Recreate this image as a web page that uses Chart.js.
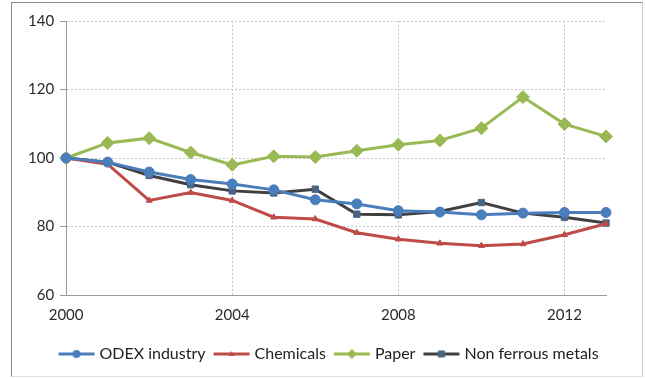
<!DOCTYPE html>
<html>
<head>
<meta charset="utf-8">
<script src="https://cdn.jsdelivr.net/npm/chart.js@4/dist/chart.umd.min.js"></script>
<style>
  html, body { margin: 0; padding: 0; background: #fff; }
  #frame { position: absolute; left: 11px; top: 2px; width: 630px; height: 373px;
           border: 1px solid #8c8c8c; border-right-color: #cfcfcf; border-bottom-color: #e2e2e2; }
  #wrap { position: absolute; left: 0; top: 0; width: 645px; height: 378px; }
</style>
</head>
<body>
<div id="frame"></div>
<div id="wrap"><canvas id="chart"></canvas></div>
<script>
const years = [2000, 2001, 2002, 2003, 2004, 2005, 2006, 2007, 2008, 2009, 2010, 2011, 2012, 2013];
const xTicks = [2000, 2004, 2008, 2012];
const yTicks = [60, 80, 100, 120, 140];

const odex       = [100, 98.8, 95.9, 93.7, 92.4, 90.7, 87.8, 86.6, 84.6, 84.2, 83.4, 83.9, 84.1, 84.1];
const chemicals  = [100, 98.2, 87.6, 89.9, 87.6, 82.7, 82.2, 78.2, 76.3, 75.1, 74.4, 74.9, 77.6, 80.8];
const paper      = [100, 104.4, 105.8, 101.6, 98.0, 100.5, 100.3, 102.1, 103.9, 105.1, 108.7, 117.8, 109.9, 106.3];
const nonFerrous = [100, 98.8, 94.9, 92.2, 90.4, 89.8, 90.9, 83.6, 83.4, 84.4, 87.0, 83.9, 82.7, 81.0];

const font = { family: 'Lato, "Liberation Sans", sans-serif', size: 15 };
const legendFont = { family: 'Lato, "Liberation Sans", sans-serif', size: 16 };

// small legend picture: a line with the marker in its middle
function legendIcon(lineColor, markColor, shape) {
  const c = document.createElement('canvas');
  c.width = 38; c.height = 14;
  const g = c.getContext('2d');
  g.strokeStyle = lineColor; g.lineWidth = 3;
  g.beginPath(); g.moveTo(1, 7); g.lineTo(37, 7); g.stroke();
  g.fillStyle = markColor;
  g.beginPath();
  if (shape === 'circle') g.arc(19, 7, 4, 0, Math.PI * 2);
  else if (shape === 'triangle') { g.moveTo(19, 4); g.lineTo(22, 9); g.lineTo(16, 9); g.closePath(); }
  else if (shape === 'rectRot') { g.moveTo(19, 2); g.lineTo(24, 7); g.lineTo(19, 12); g.lineTo(14, 7); g.closePath(); }
  else g.rect(15.5, 3.5, 7, 7);
  g.fill();
  return c;
}

function series(label, data, lineColor, markColor, shape, radius) {
  return {
    label: label,
    data: data.map((v, i) => ({ x: years[i], y: v })),
    borderColor: lineColor,
    backgroundColor: markColor,
    pointBackgroundColor: markColor,
    pointBorderColor: markColor,
    borderWidth: 3,
    pointStyle: shape,
    pointRadius: radius,
    pointBorderWidth: 1,
    tension: 0,
    clip: false,
    icon: legendIcon(lineColor, markColor, shape)
  };
}

// legend sits a little right of centre in the original
const shiftLegend = {
  id: 'shiftLegend',
  afterLayout(chart) {
    chart.legend.left += 16;
    chart.legend.right += 16;
  }
};

const ctx = document.getElementById('chart').getContext('2d');
new Chart(ctx, {
  type: 'line',
  data: {
    datasets: [
      series('ODEX industry', odex, '#4a7ebb', '#4a7ebb', 'circle', 5),
      series('Chemicals', chemicals, '#be4b48', '#be4b48', 'triangle', 3.5),
      series('Paper', paper, '#98b954', '#98b954', 'rectRot', 6.5),
      series('Non ferrous metals', nonFerrous, '#404040', '#4a6584', 'rect', 4.5)
    ]
  },
  options: {
    responsive: true,
    maintainAspectRatio: false,
    animation: false,
    layout: { padding: { left: 22, right: 39, top: 21, bottom: 6 } },
    scales: {
      x: {
        type: 'linear',
        min: 2000,
        max: 2013,
        afterBuildTicks: (s) => { s.ticks = xTicks.map(v => ({ value: v })); },
        ticks: { font: font, color: '#2b2b2b', padding: 11, callback: (v) => String(v) },
        grid: { color: '#c8c8c8', drawTicks: false },
        border: { color: '#9a9a9a', width: 1, dash: [2, 2] }
      },
      y: {
        min: 60,
        max: 140,
        afterBuildTicks: (s) => { s.ticks = yTicks.map(v => ({ value: v })); },
        ticks: { font: font, color: '#2b2b2b', padding: 6 },
        grid: { color: '#c8c8c8', tickLength: 6, tickColor: '#9a9a9a' },
        border: { color: '#9a9a9a', width: 1, dash: [2, 2] }
      }
    },
    plugins: {
      legend: {
        position: 'bottom',
        labels: {
          font: legendFont,
          color: '#222',
          usePointStyle: true,
          pointStyleWidth: 30,
          padding: 11,
          generateLabels: (chart) => chart.data.datasets.map((ds, i) => ({
            text: ds.label,
            pointStyle: ds.icon,
            fillStyle: ds.borderColor,
            strokeStyle: ds.borderColor,
            lineWidth: 0,
            hidden: false,
            datasetIndex: i,
            fontColor: '#222'
          }))
        }
      },
      tooltip: { enabled: false }
    }
  },
  plugins: [shiftLegend]
});
</script>
</body>
</html>
